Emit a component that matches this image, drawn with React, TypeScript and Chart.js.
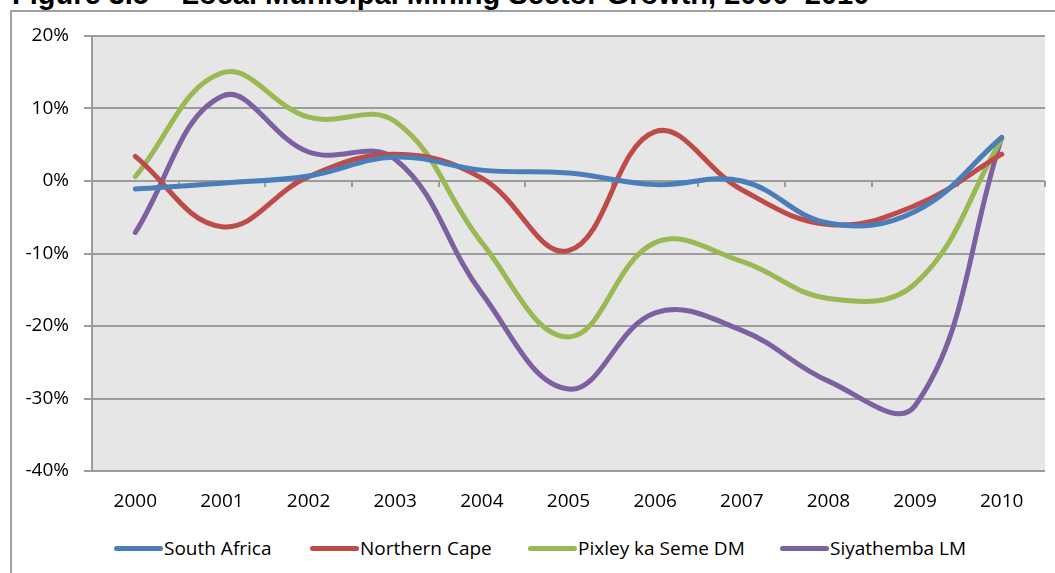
import React, { useEffect, useRef } from "react";
import { Chart, registerables } from "chart.js";

Chart.register(...registerables);

// ---- data ----
const years = ["2000", "2001", "2002", "2003", "2004", "2005", "2006", "2007", "2008", "2009", "2010"];
const seriesNames = ["South Africa", "Northern Cape", "Pixley ka Seme DM", "Siyathemba LM"];
const southAfrica = [-1.1, -0.3, 0.7, 3.3, 1.5, 1.1, -0.5, 0.0, -5.8, -4.2, 6.0];
const northernCape = [3.4, -6.3, 0.6, 3.7, 0.4, -9.6, 6.8, -1.2, -6.0, -3.4, 3.7];
const pixleyKaSeme = [0.6, 14.9, 8.8, 8.2, -8.5, -21.5, -8.5, -11.1, -16.2, -14.2, 5.8];
const siyathemba = [-7.1, 11.7, 4.0, 3.0, -15.5, -28.7, -18.2, -20.6, -27.6, -31.0, 6.0];
const yMin = -40;
const yMax = 20;
const yStep = 10;
const title = "Figure 3.5 \u2013 Local Municipal Mining Sector Growth, 2000\u20132010";

const seriesValues = [southAfrica, northernCape, pixleyKaSeme, siyathemba];
const seriesColors = ["#4A7EBB", "#BE4B48", "#98B954", "#7D60A0"];
const legendX = [114, 310, 528, 780];

const FONT = "'Open Sans', sans-serif";
const GRID = "#9c9c9c";

const plotBg = {
  id: "plotBg",
  beforeDraw(chart: any) {
    const { ctx, chartArea: a } = chart;
    ctx.save();
    ctx.fillStyle = "#E6E6E6";
    ctx.fillRect(a.left, a.top, a.right - a.left, a.bottom - a.top);
    ctx.restore();
  },
};

const zeroAxis = {
  id: "zeroAxis",
  beforeDatasetsDraw(chart: any) {
    const { ctx, chartArea: a, scales } = chart;
    const x = scales.x;
    const y0 = scales.y.getPixelForValue(0);
    ctx.save();
    ctx.strokeStyle = GRID;
    ctx.lineWidth = 2;
    ctx.beginPath();
    ctx.moveTo(a.left, y0);
    ctx.lineTo(a.right, y0);
    for (let i = 0; i <= years.length; i++) {
      const px = Math.round(x.getPixelForValue(i - 0.5));
      ctx.moveTo(px, y0);
      ctx.lineTo(px, y0 + 6);
    }
    ctx.stroke();
    ctx.restore();
  },
};

export default function App() {
  const ref = useRef<HTMLCanvasElement | null>(null);

  useEffect(() => {
    if (!ref.current) return;
    const chart = new Chart(ref.current, {
      type: "line",
      data: {
        labels: years,
        datasets: seriesNames.map((name, i) => ({
          label: name,
          data: seriesValues[i],
          borderColor: seriesColors[i],
          backgroundColor: seriesColors[i],
          borderWidth: 5,
          borderCapStyle: "round",
          borderJoinStyle: "round",
          pointRadius: 0,
          pointHoverRadius: 0,
          tension: 0.4,
          fill: false,
        })),
      },
      options: {
        responsive: false,
        animation: false,
        devicePixelRatio: 1,
        layout: { padding: { top: 36, right: 10, left: 0, bottom: 0 } },
        plugins: {
          legend: { display: false },
          tooltip: { enabled: false },
          title: { display: false },
        },
        scales: {
          x: {
            type: "category",
            offset: true,
            grid: { display: false, drawTicks: false, tickLength: 0 },
            border: { display: false },
            ticks: { color: "#000", font: { family: FONT, size: 19 }, padding: 19, maxRotation: 0, autoSkip: false },
            afterFit(scale: any) {
              scale.height = 59;
            },
          },
          y: {
            min: yMin,
            max: yMax,
            ticks: {
              stepSize: yStep,
              color: "#000",
              font: { family: FONT, size: 19 },
              padding: 15,
              callback: (v: any) => `${v}%`,
            },
            grid: { color: GRID, lineWidth: 2, tickLength: 8, drawTicks: true },
            border: { display: true, color: GRID, width: 2 },
            afterFit(scale: any) {
              scale.width = 92;
            },
          },
        },
      },
      plugins: [plotBg, zeroAxis],
    });
    return () => chart.destroy();
  }, []);

  return (
    <div
      style={{
        position: "fixed",
        left: 0,
        top: 0,
        width: 1055,
        height: 573,
        overflow: "hidden",
        background: "#fff",
      }}
    >
      <div
        style={{
          position: "absolute",
          left: 12,
          top: -20,
          fontFamily: "'Liberation Sans', Arial, sans-serif",
          fontWeight: "bold",
          fontSize: 29,
          lineHeight: "29px",
          whiteSpace: "nowrap",
          color: "#000",
        }}
      >
        {title}
      </div>
      <div
        style={{
          position: "absolute",
          left: 10,
          top: 10,
          width: 1200,
          height: 700,
          borderLeft: "2px solid #a0a0a0",
          borderTop: "2px solid #a0a0a0",
        }}
      />
      <canvas
        ref={ref}
        width={1055}
        height={530}
        style={{ position: "absolute", left: 0, top: 0, width: 1055, height: 530 }}
      />
      {seriesNames.map((name, i) => (
        <div
          key={name}
          style={{
            position: "absolute",
            left: legendX[i],
            top: 536,
            height: 24,
            display: "flex",
            alignItems: "center",
            fontFamily: FONT,
            fontSize: 19,
            color: "#000",
            whiteSpace: "nowrap",
          }}
        >
          <span
            style={{
              display: "inline-block",
              width: 49,
              height: 5,
              borderRadius: 3,
              background: seriesColors[i],
              marginRight: 1,
            }}
          />
          <span>{name}</span>
        </div>
      ))}
    </div>
  );
}
